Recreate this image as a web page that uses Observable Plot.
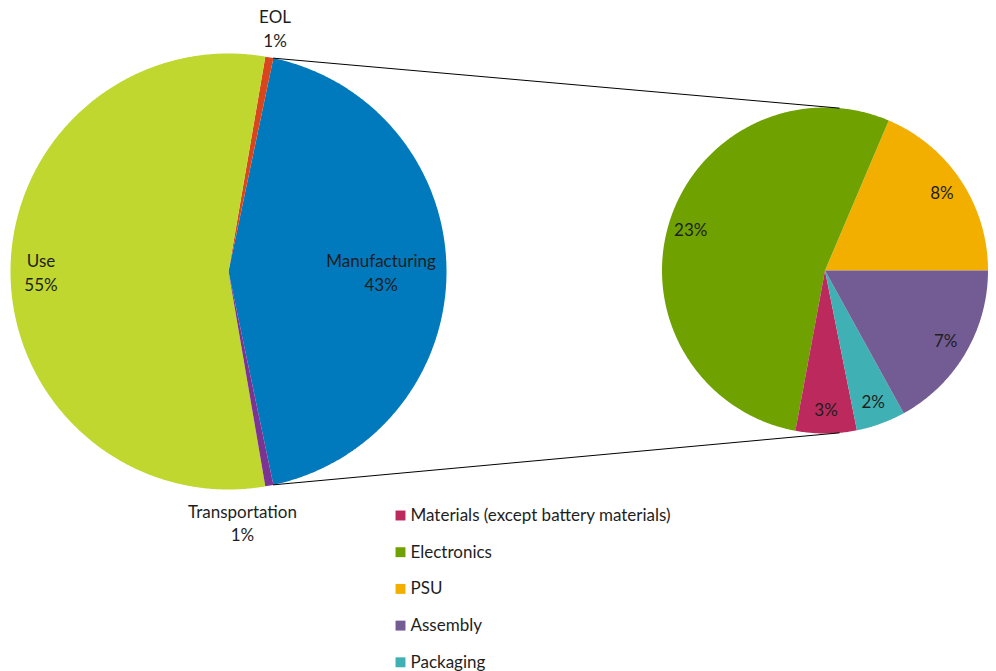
<!DOCTYPE html>
<html>
<head>
<meta charset="utf-8">
<script src="https://cdn.jsdelivr.net/npm/d3@7"></script>
<script src="https://cdn.jsdelivr.net/npm/@observablehq/plot@0.6"></script>
<style>
  html, body { margin: 0; padding: 0; background: #fff; }
  #chart svg { display: block; }
</style>
</head>
<body>
<div id="chart"></div>
<script>
// ---- Data ----
const mainCategories = ["Manufacturing", "EOL", "Use", "Transportation"];
const mainValues = [43.4, 0.6, 55.4, 0.6];
const mainColors = ["#0079bd", "#d9461d", "#c0d72f", "#7b3491"];

// legend order
const subCategories = ["Materials (except battery materials)", "Electronics", "PSU", "Assembly", "Packaging"];
const subValues = [2.6, 23.0, 8.0, 7.3, 2.1];
const subLabels = ["3%", "23%", "8%", "7%", "2%"];
const subColors = ["#bb295d", "#6fa200", "#f3af00", "#735b93", "#3fb0b3"];
// drawing order, counter-clockwise from east
const subDrawOrder = ["PSU", "Electronics", "Materials (except battery materials)", "Packaging", "Assembly"];

// ---- Layout ----
const W = 996, H = 671;
const main = {cx: 228, cy: 271, r: 218};
const sub = {cx: 824.5, cy: 270, r: 163};
const mainLabelLayout = { // radius factor and optional angle override (deg)
  "Manufacturing": {k: 0.70},
  "EOL": {k: 1.14},
  "Use": {k: 0.86},
  "Transportation": {k: 1.15, a: 273.2}
};
const subLabelK = 0.86;
const FONT = "Lato, 'Open Sans', sans-serif";
const FS = 17;

const rad = d => d * Math.PI / 180;
const pt = (c, r, a) => [c.cx + r * Math.cos(rad(a)), c.cy - r * Math.sin(rad(a))];

function slicePoints(c, name, a0, a1) {
  const pts = [{name, x: c.cx, y: c.cy}];
  const n = Math.max(2, Math.ceil(Math.abs(a1 - a0) / 0.5));
  for (let i = 0; i <= n; i++) {
    const a = a0 + (a1 - a0) * i / n;
    const [x, y] = pt(c, c.r, a);
    pts.push({name, x, y});
  }
  pts.push({name, x: c.cx, y: c.cy});
  return pts;
}

// main pie slices (Manufacturing centred on east)
const mainTotal = d3.sum(mainValues);
let a = -mainValues[0] / mainTotal * 180;
const mainSlices = mainCategories.map((name, i) => {
  const span = mainValues[i] / mainTotal * 360;
  const s = {name, value: mainValues[i], color: mainColors[i], a0: a, a1: a + span};
  a += span;
  return s;
});

// sub pie slices
const subTotal = d3.sum(subValues);
let b = 0;
const subSlices = subDrawOrder.map(name => {
  const i = subCategories.indexOf(name);
  const span = subValues[i] / subTotal * 360;
  const s = {name, value: subValues[i], label: subLabels[i], color: subColors[i], a0: b, a1: b + span};
  b += span;
  return s;
});

const mainPts = mainSlices.flatMap(s => slicePoints(main, s.name, s.a0, s.a1));
const subPts = subSlices.flatMap(s => slicePoints(sub, s.name, s.a0, s.a1));
const colorOf = Object.fromEntries([...mainSlices, ...subSlices].map(s => [s.name, s.color]));

// labels
const mainLabelData = mainSlices.map(s => {
  const L = mainLabelLayout[s.name];
  const ang = L.a !== undefined ? L.a : (s.a0 + s.a1) / 2;
  const [x, y] = pt(main, main.r * L.k, ang);
  return {x, y, text: `${s.name}\n${Math.round(s.value)}%`};
});
const subLabelData = subSlices.map(s => {
  const [x, y] = pt(sub, sub.r * subLabelK, (s.a0 + s.a1) / 2);
  return {x, y, text: s.label};
});

// connector lines: manufacturing edges -> top/bottom of sub pie
const manu = mainSlices[0];
const [tx0, ty0] = pt(main, main.r, manu.a1);
const [bx0, by0] = pt(main, main.r, manu.a0);
const [tx1, ty1] = pt(sub, sub.r, 85);
const [bx1, by1] = pt(sub, sub.r, -85);
const connectors = [
  {id: "top", x: tx0, y: ty0}, {id: "top", x: tx1, y: ty1},
  {id: "bot", x: bx0, y: by0}, {id: "bot", x: bx1, y: by1}
];

// legend
const legendX = 400, legendY0 = 515, legendStep = 36.7;
const legendData = subCategories.map((name, i) => ({name, color: subColors[i], x: legendX, y: legendY0 + i * legendStep}));

const chart = Plot.plot({
  width: W, height: H,
  margin: 0,
  x: {domain: [0, W], range: [0, W], axis: null},
  y: {domain: [0, H], range: [0, H], axis: null},
  style: {fontFamily: FONT, background: "#fff"},
  marks: [
    Plot.line(mainPts, {x: "x", y: "y", z: "name", fill: d => colorOf[d.name], stroke: "none"}),
    Plot.line(subPts, {x: "x", y: "y", z: "name", fill: d => colorOf[d.name], stroke: "none"}),
    Plot.line(connectors, {x: "x", y: "y", z: "id", stroke: "#000", strokeWidth: 1}),
    Plot.text(mainLabelData, {x: "x", y: "y", text: "text", fontSize: FS, lineHeight: 1.4, fill: "#1e1e1e", textAnchor: "middle"}),
    Plot.text(subLabelData, {x: "x", y: "y", text: "text", fontSize: FS, fill: "#1e1e1e", textAnchor: "middle"}),
    Plot.dot(legendData, {x: "x", y: "y", symbol: "square", r: 5.6, fill: "color", stroke: "none"}),
    Plot.text(legendData, {x: d => d.x + 10, y: "y", text: "name", fontSize: FS, fill: "#1e1e1e", textAnchor: "start"})
  ]
});
document.getElementById("chart").appendChild(chart);
</script>
</body>
</html>
